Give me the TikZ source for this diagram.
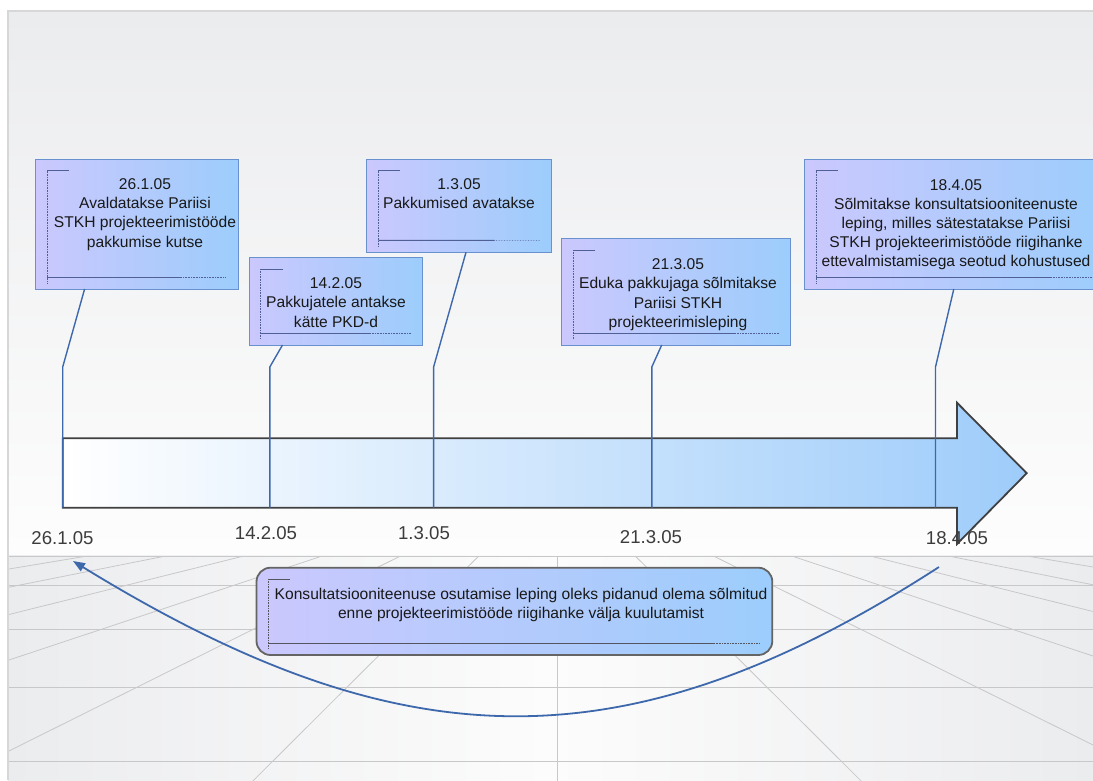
\documentclass[tikz,border=0pt]{standalone}
\usepackage{fontspec}
\setmainfont{Liberation Sans}
\usetikzlibrary{calc,arrows.meta}
\definecolor{bgTop}{RGB}{235,236,238}
\definecolor{bgBot}{RGB}{253,253,253}
\definecolor{flEdge}{RGB}{235,236,238}
\definecolor{flMid}{RGB}{252,252,252}
\definecolor{gridc}{RGB}{200,200,202}
\definecolor{panelc}{RGB}{215,215,218}
\definecolor{boxL}{RGB}{203,200,253}
\definecolor{boxR}{RGB}{156,205,252}
\definecolor{boxB}{RGB}{105,145,205}
\definecolor{conc}{RGB}{62,104,172}
\definecolor{arrR}{RGB}{158,204,250}
\definecolor{arrB}{RGB}{64,64,64}
\definecolor{decoc}{RGB}{80,95,150}
\definecolor{decon}{RGB}{85,85,95}
\definecolor{noteB}{RGB}{100,100,100}
\definecolor{txtc}{RGB}{25,25,25}
\definecolor{lblc}{RGB}{60,60,60}
\newcommand\bxdeco[3]{%
  \draw[#3, line width=0.8] ($(#1.north west)+(11.5,11.5)$) -- ++(22,0);
  \draw[#3, line width=0.6, densely dotted] ($(#1.north west)+(11.5,11.5)$) -- ($(#1.south west)+(11.5,-6)$);
  \coordinate (#1-dl) at ($(#1.south west)+(11.5,-12)$);
  \coordinate (#1-dr) at ($(#1.south east)+(-12,-12)$);
  \draw[#3, line width=1] (#1-dl) -- ($(#1-dl)!#2!(#1-dr)$);
  \draw[#3, line width=0.6, densely dotted] ($(#1-dl)!#2!(#1-dr)$) -- (#1-dr);
}
\begin{document}
\begin{tikzpicture}[x=1pt,y=-1pt,
  tbox/.style={draw=boxB, line width=1, left color=boxL, right color=boxR, inner sep=0pt, outer sep=0pt},
  nbox/.style={draw=noteB, line width=1.8, rounded corners=14pt, left color=boxL, right color=boxR, inner sep=0pt, outer sep=0pt},
  ttext/.style={anchor=north, align=center, inner sep=0pt, text=txtc, font=\fontsize{15.6}{19.2}\selectfont},
  lbl/.style={inner sep=0pt, text=lblc, font=\fontsize{18.6}{20}\selectfont},
  conn/.style={draw=conc, line width=1.4},
  curv/.style={draw=conc, line width=1.8, -{Triangle[length=12pt,width=9pt]}},
  gridh/.style={draw=gridc, line width=1.3},
  gridr/.style={draw=gridc, line width=0.8}]
\useasboundingbox (0,0) rectangle (1093,780);
\begin{scope}
\clip (0,0) rectangle (1093,780);
\fill[white] (0,0) rectangle (1093,780);
% upper backdrop
\fill[top color=bgTop, bottom color=bgBot] (8,11) rectangle (1093,555);
% floor
\fill[left color=flEdge, right color=flEdge, middle color=flMid] (8,555) rectangle (1093,780);
\begin{scope}
\clip (8,556) rectangle (1093,780);
\foreach \yy in {556.7,585.3,629.3,687.3,761.3} \draw[gridh] (8,\yy) -- (1093,\yy);
\foreach \k in {-6,...,6}{
  \pgfmathsetmacro\xx{557+79*\k}
  \draw[gridr] (557,478) -- ($(557,478)!3.9!(\xx,556.7)$);
}
\end{scope}
\draw[panelc, line width=1.5] (8,780) -- (8,11) -- (1093,11);

% main timeline arrow
\draw[arrB, line width=1.8, left color=white, right color=arrR]
  (62.7,438.3) -- (957,438.3) -- (957,402.7) -- (1026.7,473.2) -- (957,544) -- (957,507.7) -- (62.7,507.7) -- cycle;

% boxes
\node[tbox, minimum width=202.3, minimum height=130] (b1) at (136.85,224) {};
\node[tbox, minimum width=173.5, minimum height=87.3] (b2) at (335.75,301.35) {};
\node[tbox, minimum width=185, minimum height=93.3] (b3) at (459.3,205.65) {};
\node[tbox, minimum width=228.9, minimum height=106.3] (b4) at (676.35,291.85) {};
\node[tbox, minimum width=301.5, minimum height=130] (b5) at (955.25,224) {};
\bxdeco{b1}{0.75}{decoc}
\bxdeco{b2}{0.72}{decoc}
\bxdeco{b3}{0.72}{decoc}
\bxdeco{b4}{0.78}{decoc}
\bxdeco{b5}{0.84}{decoc}

\node[ttext] (t1) at (145,178.5) {26.1.05\\Avaldatakse Pariisi\\STKH projekteerimistööde\\pakkumise kutse};
\node[ttext] (t2) at (336,277.6) {14.2.05\\Pakkujatele antakse\\kätte PKD-d};
\node[ttext] (t3) at (459,178.5) {1.3.05\\Pakkumised avatakse};
\node[ttext] (t4) at (678,258.6) {21.3.05\\Eduka pakkujaga sõlmitakse\\Pariisi STKH\\projekteerimisleping};
\node[ttext] (t5) at (956,179) {18.4.05\\Sõlmitakse konsultatsiooniteenuste\\leping, milles sätestatakse Pariisi\\STKH projekteerimistööde riigihanke\\ettevalmistamisega seotud kohustused};

% connectors
\coordinate (k1a) at ($(b1.south west)+(48.9,0)$);
\coordinate (k1b) at (62.7,367);
\coordinate (k1c) at (62.7,507.7);
\coordinate (k2a) at ($(b2.south west)+(33.5,0)$);
\coordinate (k2b) at (269.8,367);
\coordinate (k2c) at (269.8,507.7);
\coordinate (k3a) at ($(b3.south west)+(99.2,0)$);
\coordinate (k3b) at (433.6,367);
\coordinate (k3c) at (433.6,507.7);
\coordinate (k4a) at ($(b4.south west)+(99.8,0)$);
\coordinate (k4b) at (651.8,367);
\coordinate (k4c) at (651.8,507.7);
\coordinate (k5a) at ($(b5.south west)+(149.3,0)$);
\coordinate (k5b) at (935.5,367);
\coordinate (k5c) at (935.5,507.7);
\foreach \i in {1,...,5} \draw[conn] (k\i a) -- (k\i b) -- (k\i c);

% date labels
\node[lbl] (l1) at (62.5,538) {26.1.05};
\node[lbl] (l2) at (266,533) {14.2.05};
\node[lbl] (l3) at (424,533) {1.3.05};
\node[lbl] (l4) at (651,537) {21.3.05};
\node[lbl] (l5) at (957,538) {18.4.05};

% note
\node[nbox, minimum width=515.8, minimum height=87.3] (nb) at (514.4,611.35) {};
\bxdeco{nb}{0.906}{decon}
\node[ttext] (tn) at (521,587.7) {Konsultatsiooniteenuse osutamise leping oleks pidanud olema sõlmitud\\enne projekteerimistööde riigihanke välja kuulutamist};

% curved arrow
\coordinate (cs) at (939,567);
\coordinate (ce) at (73,561);
\draw[curv] (cs) .. controls (625,770) and (400,762) .. (ce);
\end{scope}
\end{tikzpicture}
\end{document}
